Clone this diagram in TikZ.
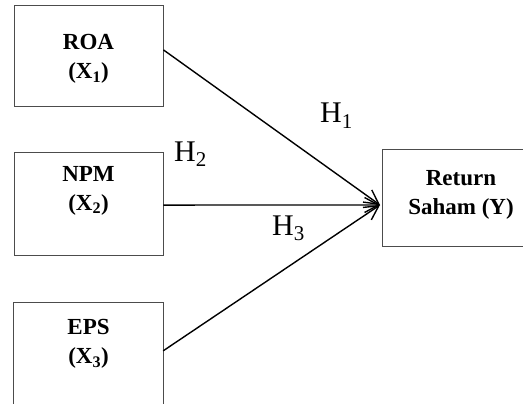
\documentclass[tikz,border=0pt]{standalone}
\usepackage{fontspec}
\setmainfont{Liberation Serif}
\usetikzlibrary{arrows.meta,calc}
\begin{document}
\begin{tikzpicture}[x=1pt,y=-1pt,
  box/.style={draw=black!70,line width=0.9pt,rectangle,inner sep=0pt},
  vlbl/.style={font=\fontsize{23}{29}\selectfont\bfseries,align=center,anchor=north,inner sep=0pt},
  hlbl/.style={font=\fontsize{30}{36}\selectfont,anchor=base west,inner sep=0pt},
  conn/.style={line width=1.4pt,-{Straight Barb[length=14pt,width=15pt,line width=1.4pt]}}]
\useasboundingbox (0,0) rectangle (523,404);
% boxes
\node[box,minimum width=149pt,minimum height=101pt] (roa) at (88.5,55.5) {};
\node[box,minimum width=149pt,minimum height=103pt] (npm) at (88.5,203.5) {};
\node[minimum width=149pt,minimum height=104pt,inner sep=0pt] (eps) at (88.5,355) {};
\draw[draw=black!70,line width=0.9pt] (eps.south west) -- (eps.north west) -- (eps.north east) -- (eps.south east);
\node[minimum width=180pt,minimum height=96pt,inner sep=0pt] (ret) at (473,198) {};
\draw[draw=black!70,line width=0.9pt] (ret.north east) -- (ret.north west) -- (ret.south west) -- (ret.south east);
% labels
\node[vlbl] (roat) at (88.5,34) {ROA\\(X\textsubscript{1})};
\node[vlbl] (npmt) at (88.5,166) {NPM\\(X\textsubscript{2})};
\node[vlbl] (epst) at (88.5,319) {EPS\\(X\textsubscript{3})};
\node[vlbl] (rett) at (461,170) {Return\\Saham (Y)};
% hypotheses
\node[hlbl] (h1) at (320,123) {H\textsubscript{1}};
\node[hlbl] (h2) at (174,161) {H\textsubscript{2}};
\node[hlbl] (h3) at (272,235) {H\textsubscript{3}};
% connectors
\coordinate (tip) at (380,205);
\draw[conn] ($(roa.north east)!0.445!(roa.south east)$) -- (tip);
\draw[conn] ($(npm.north east)!0.515!(npm.south east)$) -- (tip);
\draw[conn] ($(eps.north east)!0.46!(eps.south east)$) -- (tip);
\end{tikzpicture}
\end{document}
